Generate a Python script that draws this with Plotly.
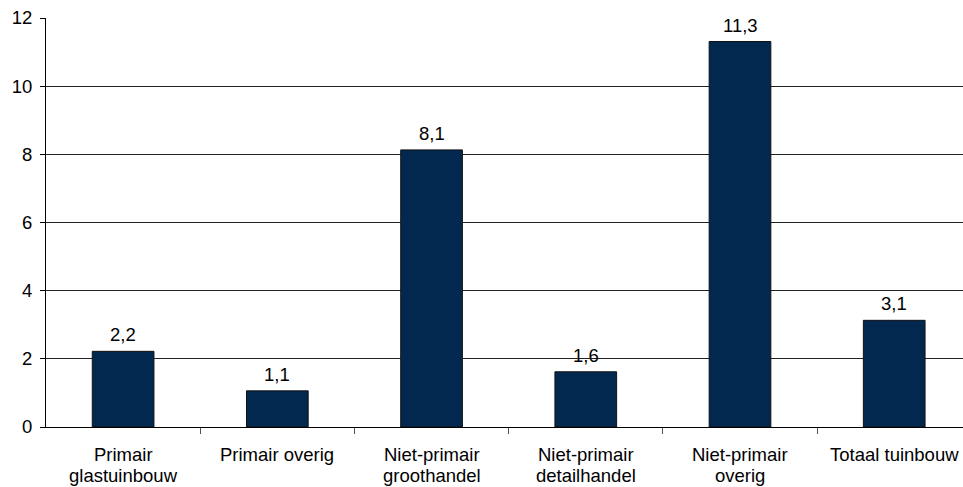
import plotly.graph_objects as go

# Categories (line breaks where the labels wrap) and their values
categories = [
    "Primair<br>glastuinbouw",
    "Primair overig",
    "Niet-primair<br>groothandel",
    "Niet-primair<br>detailhandel",
    "Niet-primair<br>overig",
    "Totaal tuinbouw",
]
values = [2.22, 1.06, 8.13, 1.62, 11.31, 3.13]
y_ticks = [0, 2, 4, 6, 8, 10, 12]

FONT = "Liberation Sans, Arial, sans-serif"
FSIZE = 18.5
BAR_COLOR = "#032850"
x_idx = list(range(len(categories)))

fig = go.Figure(
    go.Bar(
        x=x_idx,
        y=values,
        width=0.4,
        marker=dict(color=BAR_COLOR, line=dict(color="#111111", width=1)),
        hoverinfo="skip",
    )
)

annotations = []
# value labels above each bar, comma as decimal separator
for i, v in enumerate(values):
    annotations.append(dict(
        x=i, y=v, xref="x", yref="y", showarrow=False,
        text=f"{v:.1f}".replace(".", ","),
        yanchor="bottom", yshift=4,
        font=dict(family=FONT, size=FSIZE, color="#000000"),
    ))
# category labels under the axis, one annotation per line
for i, cat in enumerate(categories):
    for j, line in enumerate(cat.split("<br>")):
        annotations.append(dict(
            x=i, y=0, xref="x", yref="y", showarrow=False,
            text=line, yanchor="top", yshift=-15 - 21 * j,
            font=dict(family=FONT, size=FSIZE, color="#000000"),
        ))

fig.update_layout(
    width=963, height=487,
    margin=dict(l=46, r=0, t=18, b=60),
    paper_bgcolor="white", plot_bgcolor="white",
    showlegend=False,
    annotations=annotations,
    font=dict(family=FONT, size=FSIZE, color="#000000"),
)
fig.update_xaxes(
    type="linear",
    range=[-0.5, 5.446],
    tickvals=[k + 0.5 for k in x_idx[:-1]],
    showticklabels=False,
    ticks="outside", ticklen=6, tickcolor="#555555", tickwidth=1,
    showline=True, linecolor="#000000", linewidth=1,
    showgrid=False, zeroline=False,
)
fig.update_yaxes(
    range=[0, 12],
    tickvals=y_ticks,
    ticks="outside", ticklen=5, tickcolor="#000000", tickwidth=1,
    showline=True, linecolor="#000000", linewidth=1,
    showgrid=True, gridcolor="#222222", gridwidth=1,
    zeroline=False,
    tickfont=dict(family=FONT, size=FSIZE, color="#000000"),
    ticklabelstandoff=4,
)

fig.write_html("out.html")
